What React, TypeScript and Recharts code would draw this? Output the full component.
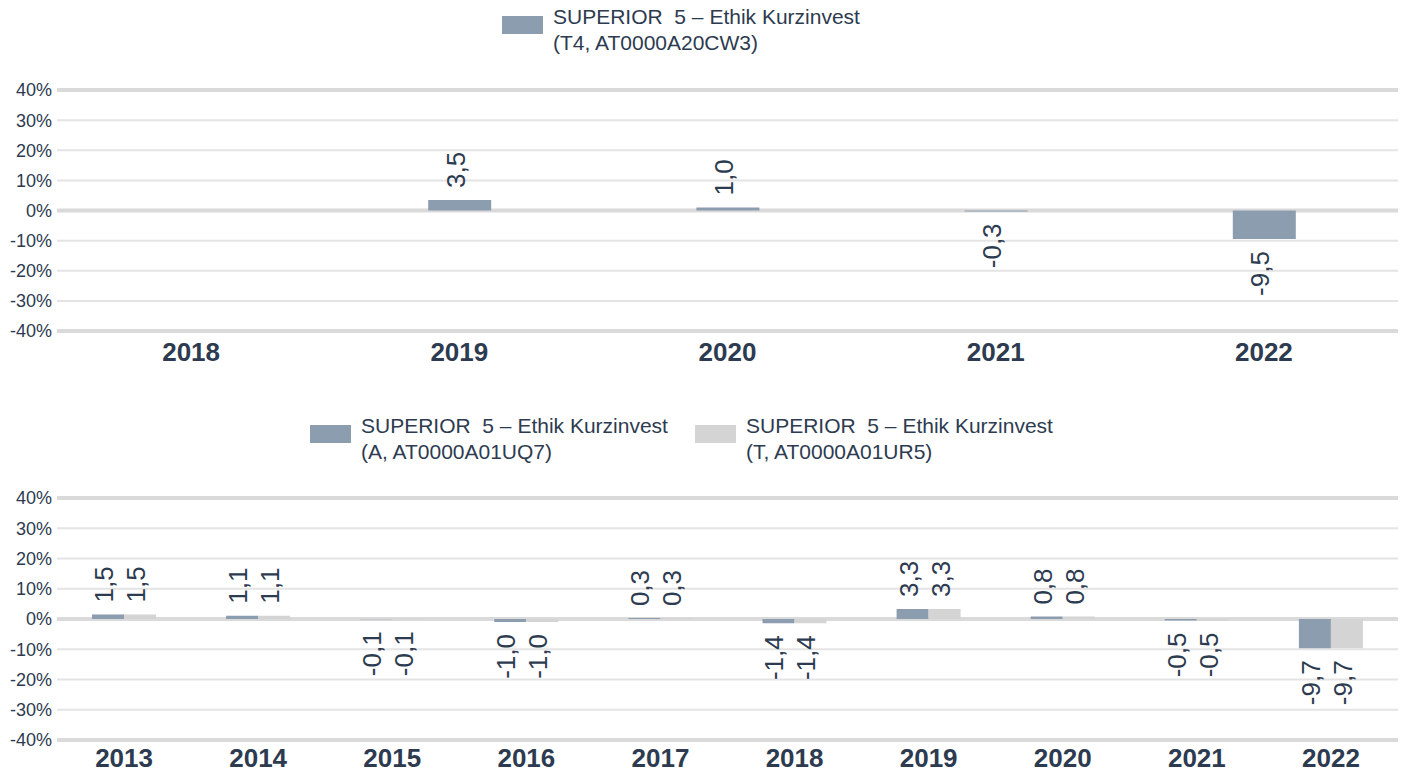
import React from "react";
import { BarChart, Bar, XAxis, YAxis, CartesianGrid, LabelList } from "recharts";

// oberes Diagramm: Tranche T4
const yearsT4 = ["2018", "2019", "2020", "2021", "2022"];
const valuesT4 = [null, 3.5, 1.0, -0.3, -9.5];

// unteres Diagramm: Tranchen A und T
const yearsAT = ["2013", "2014", "2015", "2016", "2017", "2018", "2019", "2020", "2021", "2022"];
const valuesA = [1.5, 1.1, -0.1, -1.0, 0.3, -1.4, 3.3, 0.8, -0.5, -9.7];
const valuesT = [1.5, 1.1, -0.1, -1.0, 0.3, -1.4, 3.3, 0.8, -0.5, -9.7];

const yTicks = [-40, -30, -20, -10, 0, 10, 20, 30, 40];

const seriesName = "SUPERIOR\u00a0\u00a05 – Ethik Kurzinvest";
const legendT4 = "(T4, AT0000A20CW3)";
const legendA = "(A, AT0000A01UQ7)";
const legendT = "(T, AT0000A01UR5)";

const TEXT = "#2d3b50";
const COLOR_A = "#8b9dae";
const COLOR_T = "#d4d4d4";
const FONT = "'Liberation Sans', Arial, sans-serif";

const topData = yearsT4.map((year, i) => ({ year, t4: valuesT4[i] }));
const bottomData = yearsAT.map((year, i) => ({ year, a: valuesA[i], t: valuesT[i] }));

const fmt = (v: number) => v.toFixed(1).replace(".", ",");

// Wertbeschriftung, um 90° gedreht
const ValueLabel = (props: any) => {
  const { x, y, width, height, value } = props;
  if (value === null || value === undefined) return null;
  const cx = Number(x) + Number(width) / 2 + 5;
  const top = Math.min(Number(y), Number(y) + Number(height));
  const bottom = Math.max(Number(y), Number(y) + Number(height));
  const positive = value >= 0;
  const ty = positive ? top - 12 : bottom + 12;
  return (
    <text
      x={cx}
      y={ty}
      transform={`rotate(-90 ${cx} ${ty})`}
      textAnchor={positive ? "start" : "end"}
      fill={TEXT}
      fontSize={26}
      fontFamily={FONT}
    >
      {fmt(value)}
    </text>
  );
};

// Rasterlinien: 0% und ±40% dicker
const gridLine = (p: any) => {
  const thick = p.index === 0 || p.index === 4 || p.index === 8;
  return (
    <line
      key={p.key ?? `g-${p.index}`}
      x1={p.x1}
      x2={p.x2}
      y1={p.y1}
      y2={p.y2}
      stroke={thick ? "#dadada" : "#e4e4e4"}
      strokeWidth={thick ? 4 : 2}
    />
  );
};

const LegendItem = ({ left, top, color, line2 }: { left: number; top: number; color: string; line2: string }) => (
  <div style={{ position: "absolute", left, top }}>
    <div style={{ position: "absolute", left: 0, top: 12, width: 41, height: 18, background: color }} />
    <div
      style={{
        position: "absolute",
        left: 51,
        top: 0,
        whiteSpace: "pre",
        fontFamily: FONT,
        fontSize: 21,
        lineHeight: "26px",
        color: TEXT,
      }}
    >
      {seriesName}
      <br />
      {line2}
    </div>
  </div>
);

const yAxisProps = {
  type: "number" as const,
  domain: [-40, 40],
  ticks: yTicks,
  width: 57,
  axisLine: false,
  tickLine: false,
  tickSize: 0,
  tickMargin: 5,
  interval: 0 as const,
  tickFormatter: (v: number) => `${v}%`,
  tick: { fill: TEXT, fontSize: 18, fontFamily: FONT },
};

export default function App() {
  return (
    <div style={{ position: "absolute", left: 0, top: 0, width: 1402, height: 773, background: "#fff", overflow: "hidden" }}>
      <LegendItem left={502} top={4} color={COLOR_A} line2={legendT4} />

      <div style={{ position: "absolute", left: 0, top: 0 }}>
        <BarChart width={1402} height={385} data={topData} margin={{ top: 90, right: 4, left: 0, bottom: 4 }} barSize={63}>
          <CartesianGrid vertical={false} horizontal={gridLine} />
          <XAxis
            dataKey="year"
            height={50}
            axisLine={false}
            tickLine={false}
            tickSize={0}
            tickMargin={12}
            interval={0}
            tick={{ fill: TEXT, fontSize: 26, fontWeight: "bold", fontFamily: FONT }}
          />
          <YAxis {...yAxisProps} />
          <Bar dataKey="t4" fill={COLOR_A} isAnimationActive={false}>
            <LabelList dataKey="t4" content={<ValueLabel />} />
          </Bar>
        </BarChart>
      </div>

      <LegendItem left={310} top={413} color={COLOR_A} line2={legendA} />
      <LegendItem left={695} top={413} color={COLOR_T} line2={legendT} />

      <div style={{ position: "absolute", left: 0, top: 400 }}>
        <BarChart
          width={1402}
          height={373}
          data={bottomData}
          margin={{ top: 98, right: 4, left: 0, bottom: 3 }}
          barSize={32}
          barGap={0}
        >
          <CartesianGrid vertical={false} horizontal={gridLine} />
          <XAxis
            dataKey="year"
            height={30}
            axisLine={false}
            tickLine={false}
            tickSize={0}
            tickMargin={9}
            interval={0}
            tick={{ fill: TEXT, fontSize: 26, fontWeight: "bold", fontFamily: FONT }}
          />
          <YAxis {...yAxisProps} />
          <Bar dataKey="a" fill={COLOR_A} isAnimationActive={false}>
            <LabelList dataKey="a" content={<ValueLabel />} />
          </Bar>
          <Bar dataKey="t" fill={COLOR_T} isAnimationActive={false}>
            <LabelList dataKey="t" content={<ValueLabel />} />
          </Bar>
        </BarChart>
      </div>
    </div>
  );
}
